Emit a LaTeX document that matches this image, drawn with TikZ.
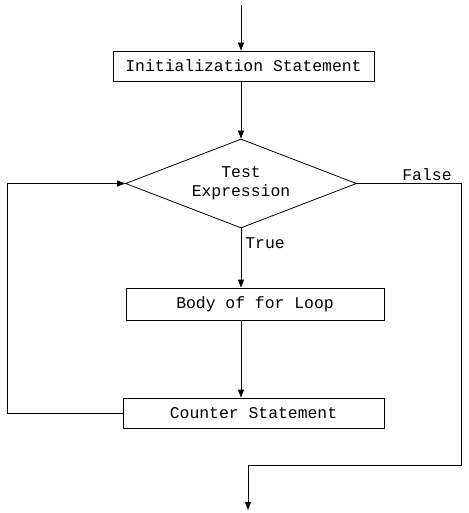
\documentclass[tikz,border=0pt]{standalone}
\usepackage{fontspec}
\setmonofont{Liberation Mono}
\usetikzlibrary{arrows.meta,positioning,calc,shapes.geometric}

\begin{document}
\begin{tikzpicture}[x=1pt,y=-1pt,line width=0.8pt,
  >={Triangle[width=6pt,length=8pt]},
  every node/.style={font=\ttfamily\fontsize{16.4}{19}\selectfont},
  stepbox/.style={draw,rectangle,inner sep=0pt,minimum height=30pt},
  testbox/.style={draw,diamond,aspect=2.6,inner sep=0pt,align=center,minimum width=231pt,minimum height=89pt}]
\useasboundingbox (0,0) rectangle (468,513);
\coordinate (start) at (241,5);
\node[stepbox,minimum width=261pt] (init) at (243.5,66) {Initialization Statement};
\node[testbox] (test) at (241,183.5) {Test\\Expression};
\node[stepbox,minimum width=258pt,minimum height=32pt] (body) at (255,304) {Body of for Loop};
\node[stepbox,minimum width=261pt] (counter) at (253.5,413) {Counter Statement};
\node (truelbl) at (265,243) {True};
\node (falselbl) at (427,175) {False};
\coordinate (back) at (7,413);
\coordinate (turn) at (461,465);
\coordinate (finish) at (248,510);
% main flow
\draw[->] (start) -- (start |- init.north);
\draw[->] (init.south -| test.north) -- (test.north);
\draw[->] (test.south) -- (test.south |- body.north);
\draw[->] (body.south -| test.south) -- (test.south |- counter.north);
% loop back and exit
\draw[->] (counter.west) -- (back) |- (test.west);
\draw[->] (test.east) -| (turn) -| (finish);
\end{tikzpicture}
\end{document}
